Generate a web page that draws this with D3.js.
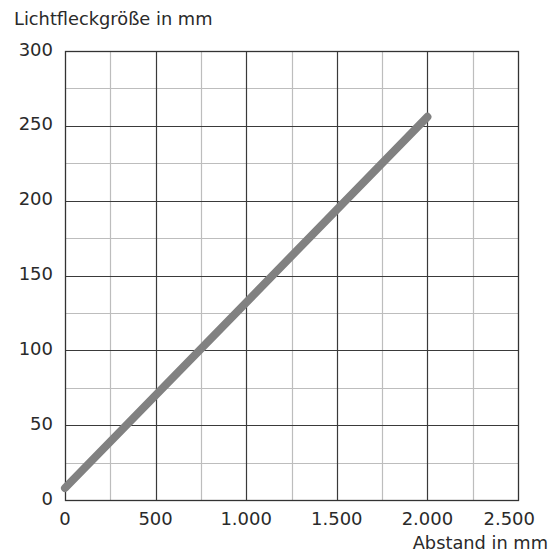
<!DOCTYPE html>
<html>
<head>
<meta charset="utf-8">
<script src="https://cdn.jsdelivr.net/npm/d3@7"></script>
<style>
  html, body { margin: 0; padding: 0; background: #fff; }
  svg text { font-family: "DejaVu Sans", sans-serif; fill: #2a2a2a; }
</style>
</head>
<body>
<svg id="chart" width="551" height="556"></svg>
<script>
// Spot size versus distance
const distance = [0, 2000];          // Abstand in mm
const spotSize = [8, 256];           // Lichtfleckgröße in mm
const xTicks = [0, 500, 1000, 1500, 2000, 2500];
const yTicks = [0, 50, 100, 150, 200, 250, 300];
const xMinor = [250, 750, 1250, 1750, 2250];
const yMinor = [25, 75, 125, 175, 225, 275];
const yTitle = "Lichtfleckgröße in mm";
const xTitle = "Abstand in mm";

const svg = d3.select("#chart");
const plotL = 65, plotR = 518, plotT = 51, plotB = 500;

const x = d3.scaleLinear().domain([0, 2500]).range([plotL, plotR]);
const y = d3.scaleLinear().domain([0, 300]).range([plotB, plotT]);
const fmt = d3.formatLocale({ decimal: ",", thousands: ".", grouping: [3], currency: ["", "€"] }).format(",d");

const grid = svg.append("g");
// minor grid
grid.selectAll("line.vx").data(xMinor).join("line")
  .attr("x1", d => Math.round(x(d)) + 0.5).attr("x2", d => Math.round(x(d)) + 0.5)
  .attr("y1", plotT).attr("y2", plotB)
  .attr("stroke", "#bdbdbd").attr("stroke-width", 1.2);
grid.selectAll("line.hy").data(yMinor).join("line")
  .attr("y1", d => Math.round(y(d)) + 0.5).attr("y2", d => Math.round(y(d)) + 0.5)
  .attr("x1", plotL).attr("x2", plotR)
  .attr("stroke", "#bdbdbd").attr("stroke-width", 1.2);
// major grid
grid.selectAll("line.mx").data(xTicks.slice(1, -1)).join("line")
  .attr("x1", d => Math.round(x(d)) + 0.5).attr("x2", d => Math.round(x(d)) + 0.5)
  .attr("y1", plotT).attr("y2", plotB)
  .attr("stroke", "#3a3a3a").attr("stroke-width", 1.2);
grid.selectAll("line.my").data(yTicks.slice(1, -1)).join("line")
  .attr("y1", d => Math.round(y(d)) + 0.5).attr("y2", d => Math.round(y(d)) + 0.5)
  .attr("x1", plotL).attr("x2", plotR)
  .attr("stroke", "#3a3a3a").attr("stroke-width", 1.2);
// frame
svg.append("rect")
  .attr("x", plotL + 0.5).attr("y", plotT + 0.5)
  .attr("width", plotR - plotL).attr("height", plotB - plotT)
  .attr("fill", "none").attr("stroke", "#333").attr("stroke-width", 1.3);

// data line
const pts = distance.map((d, i) => [d, spotSize[i]]);
svg.append("path")
  .attr("d", d3.line().x(d => x(d[0])).y(d => y(d[1]))(pts))
  .attr("fill", "none").attr("stroke", "#818181")
  .attr("stroke-width", 8).attr("stroke-linecap", "round");

// y tick labels
svg.selectAll("text.yt").data(yTicks).join("text")
  .attr("x", 53).attr("y", d => y(d) + 4.5)
  .attr("text-anchor", "end").attr("font-size", 18)
  .text(d => fmt(d));

// x tick labels, kept inside the page on the right
svg.selectAll("text.xt").data(xTicks).join("text")
  .attr("x", d => x(d)).attr("y", 525)
  .attr("text-anchor", "middle").attr("font-size", 18)
  .text(d => fmt(d))
  .each(function () {
    const b = this.getBBox();
    const over = b.x + b.width - 535;
    if (over > 0) d3.select(this).attr("x", +d3.select(this).attr("x") - over);
  });

svg.append("text").attr("x", 14).attr("y", 25)
  .attr("font-size", 17.8).text(yTitle);
svg.append("text").attr("x", 548).attr("y", 549)
  .attr("text-anchor", "end").attr("font-size", 17.8).text(xTitle);
</script>
</body>
</html>
